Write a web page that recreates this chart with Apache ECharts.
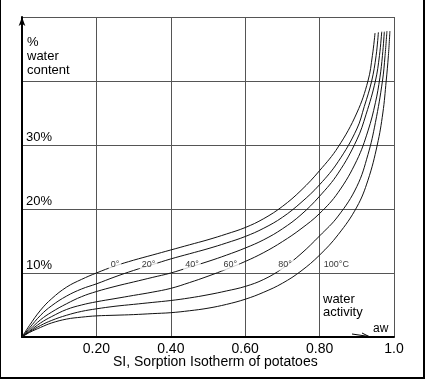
<!DOCTYPE html>
<html>
<head>
<meta charset="utf-8">
<script src="https://cdn.jsdelivr.net/npm/echarts@6/dist/echarts.min.js"></script>
<style>
html,body{margin:0;padding:0;background:#fff;}
#c{width:429px;height:381px;}
</style>
</head>
<body>
<div id="c"></div>
<script>
// ---- data ----
var xTickLabels = ['', '0.20', '0.40', '0.60', '0.80', '1.0'];
var yTickLabels = ['', '10%', '20%', '30%', '', ''];
var curveNames = ['0°', '20°', '40°', '60°', '80°', '100°C'];
var c0 = [[0,0],[0.02,1.8],[0.05,4.2],[0.08,6.0],[0.12,7.8],[0.16,9.0],[0.2,10.0],[0.25,11.1],[0.3,12.0],[0.35,12.8],[0.4,13.6],[0.45,14.4],[0.5,15.2],[0.55,16.1],[0.6,17.1],[0.65,18.5],[0.7,20.4],[0.75,22.9],[0.8,26.0],[0.85,29.7],[0.9,35.0],[0.93,40.0],[0.942,44.0],[0.949,47.5]];
var c20 = [[0,0],[0.02,1.4],[0.05,3.4],[0.08,4.9],[0.12,6.4],[0.16,7.5],[0.2,8.3],[0.25,9.4],[0.3,10.4],[0.35,11.3],[0.4,12.2],[0.45,13.0],[0.5,13.8],[0.55,14.7],[0.6,15.7],[0.65,17.0],[0.7,18.7],[0.75,21.0],[0.8,23.8],[0.85,27.4],[0.9,32.5],[0.92,36.0],[0.94,40.0],[0.952,44.0],[0.958,47.6]];
var c40 = [[0,0],[0.02,1.1],[0.05,2.7],[0.08,3.9],[0.12,5.2],[0.16,6.3],[0.2,7.1],[0.25,7.9],[0.3,8.6],[0.35,9.3],[0.4,10.0],[0.45,10.9],[0.5,11.8],[0.55,12.8],[0.6,13.9],[0.65,15.2],[0.7,16.9],[0.75,19.1],[0.8,22.0],[0.85,25.6],[0.9,30.8],[0.925,34.8],[0.95,40.0],[0.961,44.0],[0.967,47.7]];
var c60 = [[0,0],[0.02,0.9],[0.05,2.2],[0.08,3.2],[0.12,4.3],[0.16,5.0],[0.2,5.5],[0.25,6.0],[0.3,6.5],[0.35,7.0],[0.4,7.6],[0.45,8.5],[0.5,9.5],[0.55,10.6],[0.6,11.8],[0.65,13.2],[0.7,14.9],[0.75,16.9],[0.8,19.3],[0.85,22.6],[0.9,27.6],[0.93,32.2],[0.95,36.6],[0.962,40.5],[0.969,44.0],[0.974,47.7]];
var c80 = [[0,0],[0.02,0.8],[0.05,1.8],[0.08,2.6],[0.12,3.4],[0.16,4.0],[0.2,4.4],[0.25,4.8],[0.3,5.1],[0.35,5.4],[0.4,5.7],[0.45,6.1],[0.5,6.6],[0.55,7.2],[0.6,7.9],[0.65,9.0],[0.7,10.7],[0.75,13.0],[0.8,15.8],[0.85,18.9],[0.9,23.5],[0.93,28.5],[0.95,33.5],[0.969,40.0],[0.976,44.0],[0.981,47.8]];
var c100 = [[0,0],[0.02,0.7],[0.05,1.5],[0.08,2.2],[0.12,2.8],[0.16,3.1],[0.2,3.3],[0.25,3.4],[0.3,3.5],[0.35,3.65],[0.4,3.8],[0.45,4.1],[0.5,4.5],[0.55,5.1],[0.6,5.9],[0.65,7.0],[0.7,8.4],[0.75,10.3],[0.8,12.8],[0.85,16.0],[0.9,20.3],[0.93,24.5],[0.955,30.0],[0.97,35.0],[0.979,40.0],[0.985,44.0],[0.989,47.8]];
var curveLabelPos = [[0.25,11.25],[0.34,11.25],[0.457,11.25],[0.56,11.25],[0.707,11.25],[0.806,11.25]];

var curves = [c0, c20, c40, c60, c80, c100];
var FONT = 'Liberation Sans, Arial, sans-serif';

var chart = echarts.init(document.getElementById('c'), null, {renderer: 'canvas'});

var series = curves.map(function (d, i) {
  return {
    type: 'line', name: curveNames[i], data: d,
    smooth: 0.4, symbol: 'none',
    lineStyle: {color: '#111', width: 1}, z: 3, silent: true
  };
});
series.push({
  type: 'scatter', symbolSize: 0, z: 5, silent: true,
  data: curveLabelPos.map(function (p, i) { return {value: p, name: curveNames[i]}; }),
  label: {
    show: true, position: 'inside', color: '#000', fontSize: 9, fontFamily: FONT,
    backgroundColor: '#fff', padding: [1, 2],
    formatter: function (p) { return p.name; }
  },
  labelLayout: function (p) {
    if (p.dataIndex === 5) { return {align: 'left', dx: 0}; }
    return {};
  }
});

chart.setOption({
  animation: false,
  backgroundColor: '#fff',
  grid: {left: 22, right: 35, top: 17, bottom: 44, containLabel: false},
  xAxis: {
    type: 'value', min: 0, max: 1, interval: 0.2,
    axisLine: {show: true, lineStyle: {color: '#000', width: 2}},
    axisTick: {show: false},
    splitLine: {show: true, lineStyle: {color: '#555', width: 1}},
    axisLabel: {
      color: '#000', fontSize: 14, fontFamily: FONT, margin: 5,
      formatter: function (v) { return xTickLabels[Math.round(v / 0.2)]; }
    }
  },
  yAxis: {
    type: 'value', min: 0, max: 50, interval: 10,
    axisLine: {show: true, lineStyle: {color: '#000', width: 2}, symbol: ['none', 'arrow'], symbolSize: [5, 9], symbolOffset: [0, 0]},
    axisTick: {show: false},
    splitLine: {show: true, lineStyle: {color: '#555', width: 1}},
    axisLabel: {
      inside: true, color: '#000', fontSize: 13, fontFamily: FONT, margin: 4,
      verticalAlign: 'bottom', padding: [0, 0, 1, 0],
      formatter: function (v) { return yTickLabels[Math.round(v / 10)]; }
    }
  },
  graphic: [
    {type: 'text', left: 27, top: 35, style: {text: '%\nwater\ncontent', font: '13px ' + FONT, fill: '#000', lineHeight: 14}},
    {type: 'text', left: 323, top: 293, style: {text: 'water\nactivity', font: '13px ' + FONT, fill: '#000', lineHeight: 13}},
    {type: 'text', left: 373, top: 323, style: {text: 'aw', font: '12px ' + FONT, fill: '#000'}},
    {type: 'line', shape: {x1: 352, y1: 334, x2: 369, y2: 336.5}, style: {stroke: '#000', lineWidth: 1}},
    {type: 'polyline', shape: {points: [[362, 333], [369, 336.5], [362, 337.5]]}, style: {stroke: '#000', lineWidth: 1, fill: null}},
    {type: 'text', left: 113, top: 355, style: {text: 'SI, Sorption Isotherm of potatoes', font: '14px ' + FONT, fill: '#000'}},
    {type: 'rect', shape: {x: 0, y: -5, width: 424, height: 383}, style: {stroke: '#000', lineWidth: 2, fill: null}}
  ],
  series: series
});
</script>
</body>
</html>
